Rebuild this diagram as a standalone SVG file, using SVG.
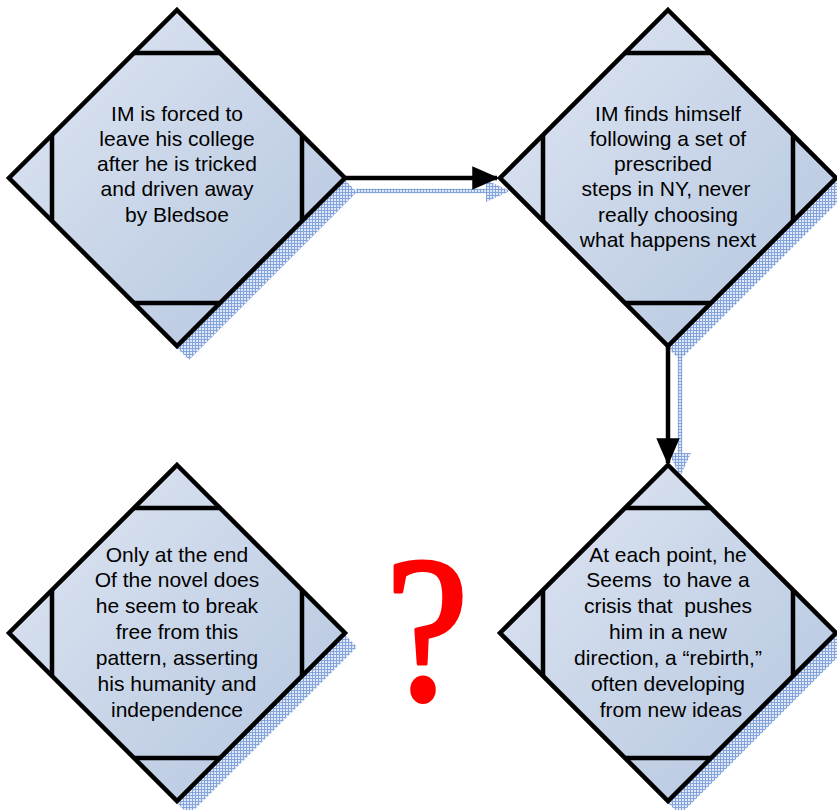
<svg xmlns="http://www.w3.org/2000/svg" width="837" height="810" viewBox="0 0 837 810">
<defs>
<linearGradient id="fillG" x1="0" y1="0" x2="1" y2="1">
<stop offset="0" stop-color="#dfe6f2"/>
<stop offset="1" stop-color="#b3c5df"/>
</linearGradient>
<pattern id="hatch" width="3" height="3" patternUnits="userSpaceOnUse">
<rect width="3" height="3" fill="#dfe8f7"/>
<rect x="0" y="0" width="3" height="1" fill="#86a4dc"/>
<rect x="0" y="0" width="1" height="3" fill="#86a4dc"/>
</pattern>
<marker id="arr" markerWidth="6" markerHeight="6" refX="5.5" refY="3" orient="auto" markerUnits="strokeWidth">
<path d="M0,0.4 L6,3 L0,5.6 Z" fill="#000"/>
</marker>
</defs>
<style>
.shadow{fill:url(#hatch);stroke:none}
.dia{fill:url(#fillG);stroke:#000;stroke-width:4.5;stroke-linejoin:miter}
.inner{stroke:#000;stroke-width:4.5;fill:none}
.lbl{font-family:"Liberation Sans",Arial,sans-serif;font-size:21px;fill:#000;text-anchor:middle;white-space:pre}
.conn{stroke:#000;stroke-width:4.5;fill:none}
.connS{stroke:url(#hatch);stroke-width:4.5;fill:none}
.headS{fill:url(#hatch)}
</style>

<g id="shadows">
<path class="shadow" d="M189,24 L357,192 L189,360 L21,192 Z"/>
<path class="shadow" d="M680,24 L848,192 L680,360 L512,192 Z"/>
<path class="shadow" d="M680,479 L848,647 L680,815 L512,647 Z"/>
<path class="shadow" d="M189,479 L357,647 L189,815 L21,647 Z"/>
</g>

<g id="connectors">
<line class="connS" x1="356" y1="191" x2="490" y2="191"/>
<path class="headS" d="M486,180 L510,191 L486,202 Z"/>
<line class="connS" x1="680" y1="358" x2="680" y2="455"/>
<path class="headS" d="M669,453 L680,477 L691,453 Z"/>
<line class="conn" x1="344" y1="178" x2="497" y2="178" marker-end="url(#arr)"/>
<line class="conn" x1="668" y1="346" x2="668" y2="463" marker-end="url(#arr)"/>
</g>

<g id="node1">
<path class="dia" d="M177,10 L345,178 L177,346 L9,178 Z"/>
<path class="inner" d="M134,53 H220 M134,303 H220 M52,135 V221 M302,135 V221"/>
<text class="lbl"><tspan x="177" y="121">IM is forced to</tspan><tspan x="177" y="146">leave his college</tspan><tspan x="177" y="171">after he is tricked</tspan><tspan x="177" y="196">and driven away</tspan><tspan x="177" y="222">by Bledsoe</tspan></text>
</g>

<g id="node2">
<path class="dia" d="M668,10 L836,178 L668,346 L500,178 Z"/>
<path class="inner" d="M625,53 H711 M625,303 H711 M543,135 V221 M793,135 V221"/>
<text class="lbl"><tspan x="668" y="121">IM finds himself</tspan><tspan x="668" y="146">following a set of</tspan><tspan x="663" y="171">prescribed</tspan><tspan x="666" y="196">steps in NY, never</tspan><tspan x="668" y="222">really choosing</tspan><tspan x="668" y="247">what happens next</tspan></text>
</g>

<g id="node3">
<path class="dia" d="M668,465 L836,633 L668,801 L500,633 Z"/>
<path class="inner" d="M625,508 H711 M625,758 H711 M543,590 V676 M793,590 V676"/>
<text class="lbl"><tspan x="668" y="562">At each point, he</tspan><tspan x="668" y="587">Seems  to have a</tspan><tspan x="668" y="613">crisis that  pushes</tspan><tspan x="668" y="639">him in a new</tspan><tspan x="668" y="665">direction, a “rebirth,”</tspan><tspan x="668" y="691">often developing</tspan><tspan x="668" y="717"> from new ideas</tspan></text>
</g>

<g id="node4">
<path class="dia" d="M177,465 L345,633 L177,801 L9,633 Z"/>
<path class="inner" d="M134,508 H220 M134,758 H220 M52,590 V676 M302,590 V676"/>
<text class="lbl"><tspan x="177" y="562">Only at the end</tspan><tspan x="177" y="587">Of the novel does</tspan><tspan x="177" y="613">he seem to break</tspan><tspan x="177" y="639">free from this</tspan><tspan x="177" y="665">pattern, asserting</tspan><tspan x="177" y="691">his humanity and</tspan><tspan x="177" y="717">independence</tspan></text>
</g>

<g id="question">
<text transform="translate(427,699) scale(0.9,1)" x="0" y="0" font-family="'Liberation Serif','Times New Roman',serif" font-size="207" fill="#ff0000" stroke="#ff0000" stroke-width="4" stroke-linejoin="round" text-anchor="middle">?</text>
</g>
</svg>
